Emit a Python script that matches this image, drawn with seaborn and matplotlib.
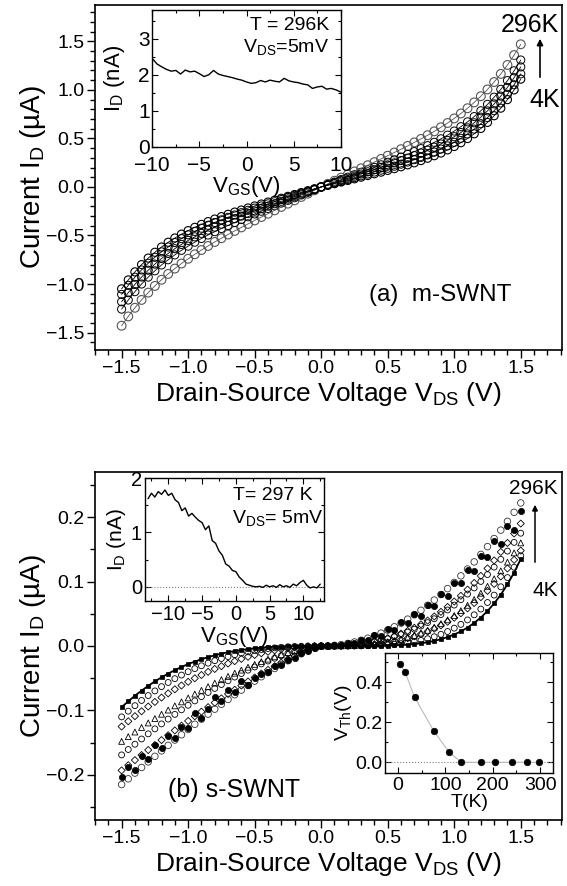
import numpy as np
import pandas as pd
import matplotlib
matplotlib.use("Agg")
import matplotlib.pyplot as plt
from matplotlib.ticker import MultipleLocator
import seaborn as sns

# ---------------- data ----------------
# drain-source bias grid magnitudes (V), 0.05 .. 1.50
vds_mag = np.round(np.arange(1, 31) * 0.05, 2)

# (a) m-SWNT  I_D (uA); *_neg is for V = -0.05 .. -1.50, *_pos for V = +0.05 .. +1.50
m_4K_pos = [0.017, 0.034, 0.051, 0.067, 0.084, 0.101, 0.118, 0.136, 0.153, 0.171, 0.189, 0.208, 0.228, 0.249, 0.272,
            0.296, 0.322, 0.350, 0.382, 0.417, 0.456, 0.499, 0.548, 0.603, 0.665, 0.734, 0.812, 0.900, 1.000, 1.111]
m_4K_neg = [-0.019, -0.039, -0.058, -0.078, -0.097, -0.117, -0.136, -0.156, -0.176, -0.196, -0.217, -0.238, -0.259,
            -0.282, -0.306, -0.331, -0.357, -0.386, -0.416, -0.450, -0.486, -0.526, -0.570, -0.619, -0.673, -0.733,
            -0.800, -0.875, -0.958, -1.050]
m_50K_pos = [0.019, 0.038, 0.057, 0.077, 0.096, 0.115, 0.134, 0.154, 0.173, 0.193, 0.214, 0.235, 0.257, 0.281, 0.305,
             0.331, 0.359, 0.390, 0.423, 0.460, 0.501, 0.546, 0.596, 0.652, 0.715, 0.786, 0.865, 0.954, 1.053, 1.165]
m_50K_neg = [-0.022, -0.043, -0.065, -0.087, -0.108, -0.130, -0.152, -0.174, -0.196, -0.218, -0.241, -0.265, -0.289,
             -0.313, -0.339, -0.366, -0.395, -0.425, -0.458, -0.493, -0.532, -0.573, -0.619, -0.669, -0.725, -0.786,
             -0.855, -0.930, -1.014, -1.107]
m_100K_pos = [0.022, 0.044, 0.067, 0.089, 0.111, 0.133, 0.156, 0.178, 0.201, 0.224, 0.248, 0.272, 0.297, 0.323, 0.350,
              0.379, 0.410, 0.443, 0.479, 0.518, 0.561, 0.609, 0.661, 0.719, 0.784, 0.856, 0.936, 1.026, 1.126, 1.237]
m_100K_neg = [-0.025, -0.049, -0.074, -0.099, -0.123, -0.148, -0.173, -0.198, -0.223, -0.248, -0.274, -0.300, -0.327,
              -0.355, -0.384, -0.414, -0.445, -0.478, -0.514, -0.551, -0.592, -0.636, -0.685, -0.737, -0.795, -0.858,
              -0.928, -1.004, -1.089, -1.183]
m_200K_pos = [0.025, 0.050, 0.076, 0.101, 0.126, 0.151, 0.177, 0.202, 0.228, 0.254, 0.280, 0.308, 0.336, 0.364, 0.395,
              0.426, 0.460, 0.496, 0.534, 0.576, 0.621, 0.671, 0.725, 0.785, 0.851, 0.925, 1.006, 1.096, 1.197, 1.308]
m_200K_neg = [-0.028, -0.055, -0.083, -0.111, -0.138, -0.166, -0.194, -0.222, -0.250, -0.278, -0.307, -0.336, -0.366,
              -0.397, -0.428, -0.461, -0.495, -0.531, -0.569, -0.610, -0.653, -0.700, -0.750, -0.804, -0.864, -0.929,
              -1.000, -1.079, -1.165, -1.259]
m_296K_pos = [0.032, 0.064, 0.096, 0.128, 0.160, 0.192, 0.224, 0.256, 0.289, 0.322, 0.355, 0.389, 0.423, 0.459, 0.495,
              0.533, 0.573, 0.615, 0.659, 0.706, 0.757, 0.811, 0.871, 0.935, 1.005, 1.081, 1.165, 1.257, 1.359, 1.470]
m_296K_neg = [-0.034, -0.069, -0.103, -0.138, -0.172, -0.206, -0.241, -0.276, -0.310, -0.345, -0.381, -0.417, -0.453,
              -0.490, -0.528, -0.567, -0.608, -0.650, -0.694, -0.740, -0.789, -0.841, -0.896, -0.956, -1.020, -1.089,
              -1.164, -1.245, -1.334, -1.430]

# (b) s-SWNT  I_D (uA)
s_4K_pos = [0.0, 0.0, 0.0, 0.0, 0.0, 0.0, 0.0001, 0.0002, 0.0003, 0.0006, 0.0009, 0.0014, 0.0021, 0.0030, 0.0042,
            0.0058, 0.0079, 0.0105, 0.0138, 0.0178, 0.0227, 0.0286, 0.0358, 0.0442, 0.0543, 0.0660, 0.0797, 0.0956,
            0.1140, 0.1350]
s_4K_neg = [0.0, 0.0, -0.0001, -0.0002, -0.0004, -0.0008, -0.0012, -0.0018, -0.0026, -0.0035, -0.0047, -0.0061,
            -0.0077, -0.0097, -0.0119, -0.0144, -0.0173, -0.0205, -0.0241, -0.0281, -0.0326, -0.0375, -0.0428,
            -0.0486, -0.0550, -0.0618, -0.0693, -0.0772, -0.0858, -0.0950]
s_15K_pos = [0.0, 0.0, 0.0, 0.0, 0.0001, 0.0002, 0.0004, 0.0007, 0.0011, 0.0017, 0.0025, 0.0036, 0.0049, 0.0066,
             0.0088, 0.0113, 0.0144, 0.0181, 0.0225, 0.0277, 0.0336, 0.0405, 0.0484, 0.0573, 0.0675, 0.0790, 0.0919,
             0.1062, 0.1222, 0.1400]
s_15K_neg = [0.0, -0.0001, -0.0004, -0.0007, -0.0012, -0.0020, -0.0029, -0.0040, -0.0054, -0.0071, -0.0090, -0.0111,
             -0.0136, -0.0164, -0.0194, -0.0228, -0.0266, -0.0307, -0.0351, -0.0399, -0.0451, -0.0507, -0.0566,
             -0.0630, -0.0697, -0.0769, -0.0845, -0.0926, -0.1011, -0.1100]
s_35K_pos = [0.0, 0.0, 0.0001, 0.0004, 0.0007, 0.0012, 0.0019, 0.0028, 0.0040, 0.0055, 0.0073, 0.0095, 0.0120, 0.0150,
             0.0185, 0.0225, 0.0269, 0.0320, 0.0376, 0.0439, 0.0508, 0.0584, 0.0667, 0.0758, 0.0856, 0.0963, 0.1079,
             0.1203, 0.1337, 0.1480]
s_35K_neg = [-0.0001, -0.0006, -0.0013, -0.0022, -0.0035, -0.0050, -0.0068, -0.0089, -0.0113, -0.0139, -0.0168,
             -0.0200, -0.0235, -0.0272, -0.0313, -0.0356, -0.0401, -0.0450, -0.0501, -0.0556, -0.0613, -0.0672,
             -0.0735, -0.0800, -0.0868, -0.0939, -0.1013, -0.1089, -0.1168, -0.1250]
s_75K_pos = [0.0, 0.0, 0.0002, 0.0004, 0.0007, 0.0013, 0.0020, 0.0030, 0.0043, 0.0059, 0.0079, 0.0102, 0.0130, 0.0163,
             0.0200, 0.0243, 0.0291, 0.0346, 0.0406, 0.0474, 0.0549, 0.0631, 0.0721, 0.0819, 0.0926, 0.1042, 0.1166,
             0.1301, 0.1445, 0.1600]
s_75K_neg = [-0.0009, -0.0025, -0.0047, -0.0072, -0.0101, -0.0132, -0.0167, -0.0204, -0.0243, -0.0285, -0.0329,
             -0.0374, -0.0422, -0.0472, -0.0523, -0.0576, -0.0631, -0.0688, -0.0746, -0.0806, -0.0867, -0.0929,
             -0.0994, -0.1059, -0.1126, -0.1194, -0.1264, -0.1335, -0.1407, -0.1480]
s_108K_pos = [0.0, 0.0002, 0.0006, 0.0011, 0.0020, 0.0031, 0.0046, 0.0064, 0.0086, 0.0112, 0.0142, 0.0177, 0.0216,
              0.0260, 0.0309, 0.0363, 0.0423, 0.0488, 0.0559, 0.0635, 0.0718, 0.0806, 0.0901, 0.1002, 0.1109, 0.1224,
              0.1345, 0.1473, 0.1608, 0.1750]
s_108K_neg = [-0.0010, -0.0029, -0.0053, -0.0082, -0.0115, -0.0151, -0.0190, -0.0233, -0.0278, -0.0325, -0.0375,
              -0.0428, -0.0482, -0.0539, -0.0598, -0.0658, -0.0721, -0.0786, -0.0852, -0.0920, -0.0990, -0.1061,
              -0.1134, -0.1209, -0.1286, -0.1363, -0.1443, -0.1524, -0.1606, -0.1690]
s_134K_pos = [0.0, 0.0002, 0.0006, 0.0012, 0.0021, 0.0034, 0.0050, 0.0070, 0.0094, 0.0122, 0.0155, 0.0192, 0.0235,
              0.0283, 0.0336, 0.0395, 0.0459, 0.0530, 0.0606, 0.0690, 0.0779, 0.0875, 0.0978, 0.1088, 0.1204, 0.1328,
              0.1460, 0.1599, 0.1746, 0.1900]
s_134K_neg = [-0.0027, -0.0065, -0.0108, -0.0155, -0.0206, -0.0258, -0.0313, -0.0370, -0.0428, -0.0489, -0.0551,
              -0.0614, -0.0679, -0.0744, -0.0812, -0.0880, -0.0949, -0.1019, -0.1090, -0.1163, -0.1236, -0.1310,
              -0.1385, -0.1460, -0.1537, -0.1614, -0.1692, -0.1771, -0.1850, -0.1930]
s_250K_pos = [0.000, 0.002, 0.001, 0.005, 0.004, 0.010, 0.009, 0.017, 0.016, 0.026, 0.025, 0.038, 0.035, 0.050, 0.047,
              0.064, 0.062, 0.081, 0.078, 0.098, 0.097, 0.118, 0.116, 0.140, 0.138, 0.163, 0.158, 0.186, 0.180, 0.210]
s_250K_neg = [-0.003, -0.008, -0.011, -0.018, -0.021, -0.029, -0.031, -0.041, -0.044, -0.050, -0.061, -0.055, -0.072,
              -0.068, -0.085, -0.079, -0.098, -0.112, -0.104, -0.128, -0.126, -0.142, -0.139, -0.158, -0.154, -0.175,
              -0.171, -0.192, -0.188, -0.203]
s_296K_pos = [0.0002, 0.0010, 0.0022, 0.0040, 0.0062, 0.0089, 0.0121, 0.0158, 0.0200, 0.0247, 0.0298, 0.0355, 0.0417,
              0.0484, 0.0555, 0.0631, 0.0713, 0.0799, 0.0890, 0.0987, 0.1088, 0.1194, 0.1305, 0.1421, 0.1542, 0.1667,
              0.1798, 0.1934, 0.2074, 0.2220]
s_296K_neg = [-0.0031, -0.0073, -0.0121, -0.0173, -0.0229, -0.0287, -0.0349, -0.0412, -0.0477, -0.0545, -0.0613,
              -0.0684, -0.0756, -0.0829, -0.0904, -0.0980, -0.1057, -0.1135, -0.1215, -0.1295, -0.1377, -0.1459,
              -0.1542, -0.1627, -0.1712, -0.1798, -0.1885, -0.1972, -0.2061, -0.2150]

# inset (a): I_D (nA) vs V_GS (V), T = 296 K
vgs_a = [-10, -9.5, -9, -8.5, -8, -7.5, -7, -6.5, -6, -5.5, -5, -4.5, -4, -3.5, -3, -2.5, -2, -1.5, -1, -0.5, 0,
         0.5, 1, 1.5, 2, 2.5, 3, 3.5, 4, 4.5, 5, 5.5, 6, 6.5, 7, 7.5, 8, 8.5, 9, 9.5, 10]
id_a = [2.45, 2.30, 2.22, 2.15, 2.10, 2.12, 2.02, 2.13, 2.08, 2.10, 2.03, 1.95, 2.00, 2.12, 2.02, 1.98, 1.95, 1.92,
        1.88, 1.85, 1.80, 1.76, 1.78, 1.84, 1.80, 1.85, 1.82, 1.80, 1.90, 1.83, 1.80, 1.78, 1.74, 1.72, 1.62, 1.66,
        1.68, 1.60, 1.62, 1.58, 1.52]

# inset (b): I_D (nA) vs V_GS (V), T = 297 K
vgs_b = [-13, -12.5, -12, -11.5, -11, -10.5, -10, -9.5, -9, -8.5, -8, -7.5, -7, -6.5, -6, -5.5, -5, -4.5, -4, -3.5,
         -3, -2.5, -2, -1.5, -1, -0.5, 0, 0.5, 1, 1.5, 2, 2.5, 3, 3.5, 4, 4.5, 5, 5.5, 6, 6.5, 7, 7.5, 8, 8.5, 9,
         9.5, 10, 10.5, 11, 11.5, 12, 12.5]
id_b = [1.62, 1.72, 1.65, 1.75, 1.70, 1.78, 1.68, 1.72, 1.60, 1.55, 1.40, 1.45, 1.30, 1.35, 1.28, 1.22, 1.18, 1.05,
        1.12, 0.85, 0.80, 0.66, 0.58, 0.42, 0.38, 0.30, 0.28, 0.18, 0.12, 0.05, 0.03, 0.01, 0.00, 0.01, -0.01, 0.03,
        0.00, 0.02, -0.01, 0.04, 0.00, 0.02, -0.01, 0.05, 0.02, 0.08, 0.12, 0.03, -0.02, 0.00, -0.02, 0.05]

# inset (c): threshold voltage vs temperature
temp_K = [4, 15, 35, 75, 108, 134, 176, 205, 240, 272, 297]
vth_V = [0.49, 0.45, 0.325, 0.158, 0.05, 0.0, 0.0, 0.0, 0.0, 0.0, 0.0]


def long_table(curves):
    rows = []
    for name, neg, pos in curves:
        for v, i in zip(-vds_mag[::-1], neg[::-1]):
            rows.append((name, v, i))
        rows.append((name, 0.0, 0.0))
        for v, i in zip(vds_mag, pos):
            rows.append((name, v, i))
    return pd.DataFrame(rows, columns=["T", "V", "I"])


m_df = long_table([("4K", m_4K_neg, m_4K_pos), ("50K", m_50K_neg, m_50K_pos),
                   ("100K", m_100K_neg, m_100K_pos), ("200K", m_200K_neg, m_200K_pos),
                   ("296K", m_296K_neg, m_296K_pos)])
s_df = long_table([("4K", s_4K_neg, s_4K_pos), ("15K", s_15K_neg, s_15K_pos), ("35K", s_35K_neg, s_35K_pos),
                   ("75K", s_75K_neg, s_75K_pos), ("108K", s_108K_neg, s_108K_pos),
                   ("134K", s_134K_neg, s_134K_pos), ("250K", s_250K_neg, s_250K_pos),
                   ("296K", s_296K_neg, s_296K_pos)])

# ---------------- style ----------------
sns.set_style("ticks")
plt.rcParams["font.family"] = ["Liberation Sans", "DejaVu Sans"]
plt.rcParams["mathtext.fontset"] = "custom"
plt.rcParams["mathtext.rm"] = "Liberation Sans"
plt.rcParams["mathtext.it"] = "Liberation Sans:italic"
plt.rcParams["mathtext.default"] = "regular"
for key in ["text.color", "axes.labelcolor", "xtick.color", "ytick.color", "axes.edgecolor"]:
    plt.rcParams[key] = "black"

W, H = 567, 886
fig = plt.figure(figsize=(W / 100, H / 100), dpi=100)
fig.patch.set_facecolor("white")


def box(x0, y0, x1, y1):
    return [x0 / W, 1 - y1 / H, (x1 - x0) / W, (y1 - y0) / H]


def fpos(x, y):
    return (x / W, 1 - y / H)


def style_main(ax):
    for s in ax.spines.values():
        s.set_linewidth(1.2)
        s.set_color("black")
        s.set_visible(True)
    ax.tick_params(which="both", direction="out", top=False, right=False, colors="black",
                   labelsize=14, width=1.0, pad=2)
    ax.tick_params(which="major", length=5.5)
    ax.tick_params(which="minor", length=3.5)
    ax.set_facecolor("white")


def style_inset(ax, labelsize=14.5, xpad=2):
    for s in ax.spines.values():
        s.set_linewidth(1.0)
        s.set_color("black")
        s.set_visible(True)
    ax.tick_params(which="both", direction="in", top=True, right=True, colors="black",
                   labelsize=labelsize, width=0.8, pad=2)
    ax.tick_params(axis="x", which="both", pad=xpad)
    ax.tick_params(which="major", length=4)
    ax.tick_params(which="minor", length=2.5)
    ax.set_facecolor("white")


# ---------------- panel (a) ----------------
ax_a = fig.add_axes(box(95, 4.5, 562, 350))
m_styles = {"296K": dict(color="none", edgecolor="#555555", s=40, linewidth=0.8),
            "200K": dict(color="none", edgecolor="black", s=34, linewidth=0.7),
            "100K": dict(color="none", edgecolor="black", s=34, linewidth=0.7),
            "50K": dict(color="none", edgecolor="black", s=34, linewidth=0.7),
            "4K": dict(color="none", edgecolor="black", s=34, linewidth=0.8)}
for name in ["296K", "200K", "100K", "50K", "4K"]:
    sub = m_df[m_df["T"] == name]
    sns.lineplot(x=sub["V"], y=sub["I"], ax=ax_a, color=m_styles[name]["edgecolor"], linewidth=0.6,
                 estimator=None, sort=False, legend=False)
    sns.scatterplot(x=sub["V"], y=sub["I"], ax=ax_a, marker="o", legend=False, **m_styles[name])
ax_a.set_xlim(-1.70, 1.81)
ax_a.set_ylim(-1.68, 1.88)
ax_a.xaxis.set_major_locator(MultipleLocator(0.5))
ax_a.xaxis.set_minor_locator(MultipleLocator(0.1))
ax_a.yaxis.set_major_locator(MultipleLocator(0.5))
ax_a.yaxis.set_minor_locator(MultipleLocator(0.1))
style_main(ax_a)
ax_a.set_xlabel("Drain-Source Voltage V$_{DS}$ (V)", fontsize=19, labelpad=2)
ax_a.set_ylabel("Current I$_{D}$ (µA)", fontsize=20)
ax_a.yaxis.set_label_coords(-0.10, 0.5)

fig.text(*fpos(440, 295), "(a)  m-SWNT", fontsize=17.5, ha="center", va="center")
fig.text(*fpos(530, 25), "296K", fontsize=18, ha="center", va="center")
fig.text(*fpos(545, 100), "4K", fontsize=18, ha="center", va="center")
fig.add_artist(matplotlib.patches.FancyArrowPatch(fpos(540, 80), fpos(540, 36), transform=fig.transFigure,
                                                  arrowstyle="-|>", mutation_scale=9, color="black", lw=1.2))

# inset (a)
in_a = fig.add_axes(box(152.3, 10, 340.7, 146.7))
sns.lineplot(x=vgs_a, y=id_a, ax=in_a, color="black", linewidth=1.0, estimator=None)
in_a.set_xlim(-10, 10)
in_a.set_ylim(0, 3.8)
in_a.xaxis.set_major_locator(MultipleLocator(5))
in_a.xaxis.set_minor_locator(MultipleLocator(2.5))
in_a.yaxis.set_major_locator(MultipleLocator(1))
in_a.yaxis.set_minor_locator(MultipleLocator(0.5))
style_inset(in_a, labelsize=15, xpad=7)
in_a.set_xlabel("V$_{GS}$(V)", fontsize=16, labelpad=-1)
in_a.set_ylabel("I$_{D}$ (nA)", fontsize=16, labelpad=8)
fig.text(*fpos(329, 25), "T = 296K", fontsize=14, ha="right", va="center")
fig.text(*fpos(329, 47), "V$_{DS}$=5mV", fontsize=14, ha="right", va="center")

# ---------------- panel (b) ----------------
ax_b = fig.add_axes(box(95, 472, 562, 820))
s_styles = {"4K": dict(marker="s", color="black", edgecolor="black", s=9, linewidth=0.5),
            "15K": dict(marker="o", color="none", edgecolor="black", s=18, linewidth=0.6),
            "35K": dict(marker="D", color="none", edgecolor="black", s=13, linewidth=0.6),
            "75K": dict(marker="^", color="none", edgecolor="black", s=18, linewidth=0.6),
            "108K": dict(marker="o", color="none", edgecolor="black", s=18, linewidth=0.6),
            "134K": dict(marker="D", color="none", edgecolor="black", s=13, linewidth=0.6),
            "250K": dict(marker="o", color="black", edgecolor="black", s=20, linewidth=0.5),
            "296K": dict(marker="o", color="none", edgecolor="#333333", s=22, linewidth=0.6)}
for name in ["296K", "134K", "108K", "75K", "35K", "15K", "250K", "4K"]:
    sub = s_df[s_df["T"] == name]
    if name == "4K":
        sns.lineplot(x=sub["V"], y=sub["I"], ax=ax_b, color="black", linewidth=1.3, estimator=None, sort=False,
                     legend=False)
    sns.scatterplot(x=sub["V"], y=sub["I"], ax=ax_b, legend=False, **s_styles[name])
ax_b.set_xlim(-1.70, 1.81)
ax_b.set_ylim(-0.27, 0.27)
ax_b.xaxis.set_major_locator(MultipleLocator(0.5))
ax_b.xaxis.set_minor_locator(MultipleLocator(0.1))
ax_b.yaxis.set_major_locator(MultipleLocator(0.1))
ax_b.yaxis.set_minor_locator(MultipleLocator(0.05))
style_main(ax_b)
ax_b.set_xlabel("Drain-Source Voltage V$_{DS}$ (V)", fontsize=19, labelpad=2)
ax_b.set_ylabel("Current I$_{D}$ (µA)", fontsize=20)
ax_b.yaxis.set_label_coords(-0.10, 0.5)

fig.text(*fpos(234, 790), "(b) s-SWNT", fontsize=18, ha="center", va="center")
fig.text(*fpos(533, 488), "296K", fontsize=15, ha="center", va="center")
fig.text(*fpos(545, 590), "4K", fontsize=15, ha="center", va="center")
fig.add_artist(matplotlib.patches.FancyArrowPatch(fpos(535, 565), fpos(535, 502), transform=fig.transFigure,
                                                  arrowstyle="-|>", mutation_scale=8, color="black", lw=1.1))

# inset (b): gate sweep
in_b = fig.add_axes(box(144.7, 478, 324.3, 601))
in_b.axhline(0, color="gray", linestyle=":", linewidth=0.8)
sns.lineplot(x=vgs_b, y=id_b, ax=in_b, color="black", linewidth=1.0, estimator=None)
in_b.set_xlim(-13.5, 13.1)
in_b.set_ylim(-0.26, 2.0)
in_b.xaxis.set_major_locator(MultipleLocator(5))
in_b.xaxis.set_minor_locator(MultipleLocator(2.5))
in_b.yaxis.set_major_locator(MultipleLocator(1))
in_b.yaxis.set_minor_locator(MultipleLocator(0.5))
style_inset(in_b, labelsize=14.5, xpad=3)
in_b.set_xlabel("V$_{GS}$(V)", fontsize=16, labelpad=0)
in_b.set_ylabel("I$_{D}$ (nA)", fontsize=15, labelpad=2)
fig.text(*fpos(313, 495), "T= 297 K", fontsize=14, ha="right", va="center")
fig.text(*fpos(323, 518), "V$_{DS}$= 5mV", fontsize=14, ha="right", va="center")

# inset (c): V_Th vs T
in_c = fig.add_axes(box(385.3, 652.7, 553.3, 772.7))
in_c.axhline(0, color="gray", linestyle=":", linewidth=0.8)
sns.lineplot(x=temp_K, y=vth_V, ax=in_c, color="#bbbbbb", linewidth=0.8, estimator=None)
sns.scatterplot(x=temp_K, y=vth_V, ax=in_c, color="black", edgecolor="black", s=22, linewidth=0.5, legend=False,
                zorder=3)
in_c.set_xlim(-27, 328)
in_c.set_ylim(-0.052, 0.548)
in_c.xaxis.set_major_locator(MultipleLocator(100))
in_c.xaxis.set_minor_locator(MultipleLocator(50))
in_c.yaxis.set_major_locator(MultipleLocator(0.2))
in_c.yaxis.set_minor_locator(MultipleLocator(0.1))
style_inset(in_c, labelsize=14, xpad=3)
in_c.set_xlabel("T(K)", fontsize=14, labelpad=0)
in_c.set_ylabel("V$_{Th}$(V)", fontsize=14, labelpad=1)

fig.savefig("out.png", dpi=100, facecolor="white")
